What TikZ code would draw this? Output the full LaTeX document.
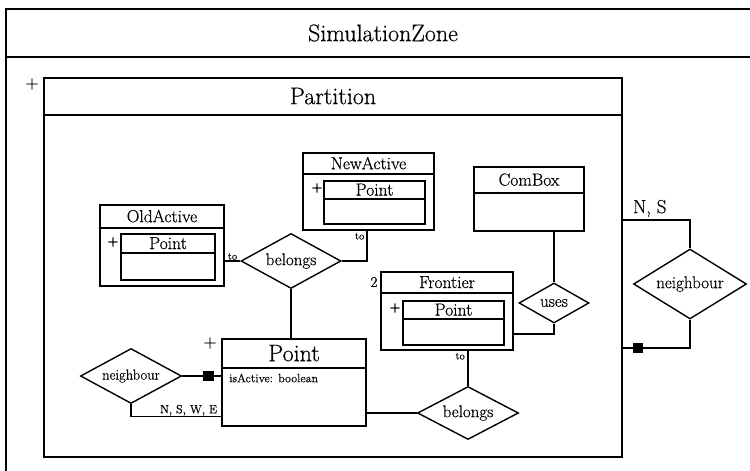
\documentclass[tikz,border=0pt]{standalone}
\usepackage{fontspec}
\setmainfont{Latin Modern Roman}[FakeBold=0.5]
\usetikzlibrary{shapes.geometric,fit,calc}
\newcommand\umlbox[8]{% name, x0, y0, x1, y1, header y, font style, title
  \node[clsbox, fit={(#2,#3) (#4,#5)}] (#1) {};
  \draw[boxline] (#1.west |- 0,#6) -- (#1.east |- 0,#6);
  \node[#7] (#1-title) at ($(#1.north)!0.5!(#1.north |- 0,#6)$) {#8};
}
\begin{document}
\begin{tikzpicture}[x=1pt,y=-1pt,
  boxline/.style={line width=1.5pt},
  frameline/.style={line width=1.8pt},
  clsbox/.style={rectangle, draw, boxline, inner sep=0pt},
  framebox/.style={rectangle, draw, frameline, inner sep=0pt},
  conn/.style={line width=1.4pt},
  rel/.style={diamond, draw, line width=1.4pt, inner sep=0pt, aspect=2},
  sq/.style={rectangle, fill=black, minimum size=10.5pt, inner sep=0pt},
  bigT/.style={font=\fontsize{24}{28}\selectfont, inner sep=0pt},
  pointT/.style={font=\fontsize{24}{28}\selectfont, inner sep=0pt},
  midT/.style={font=\fontsize{17.5}{20}\selectfont, inner sep=0pt},
  relT/.style={font=\fontsize{17}{20}\selectfont},
  relS/.style={font=\fontsize{14.5}{17}\selectfont},
  smallT/.style={font=\fontsize{12}{14}\selectfont, inner sep=1pt},
  nsT/.style={font=\fontsize{19}{22}\selectfont, inner sep=1pt},
  tinyT/.style={font=\fontsize{10.5}{12}\selectfont, inner sep=1pt},
  plusT/.style={font=\fontsize{18}{20}\selectfont, inner sep=0pt},
  plusS/.style={font=\fontsize{15}{17}\selectfont, inner sep=0pt}
]
\useasboundingbox (0,0) rectangle (750,471);

% SimulationZone frame (cropped at right and bottom)
\node[framebox, fit={(6,9) (762,482)}] (SZ) {};
\draw[frameline] (SZ.west |- 0,57) -- (SZ.east |- 0,57);
\node[bigT] (SZ-title) at (383,33) {SimulationZone};

% Partition
\node[framebox, fit={(44,78) (622,457)}] (Partition) {};
\draw[frameline] (Partition.west |- 0,115) -- (Partition.east |- 0,115);
\node[bigT] (Partition-title) at ($(Partition.north)!0.5!(Partition.north |- 0,115)$) {Partition};
\node[plusT] (plusPart) at (32,84) {+};

% classes
\umlbox{NewActive}{303}{153}{434}{230}{174}{midT}{NewActive}
\umlbox{NewPoint}{324}{181}{425}{224}{199}{midT}{Point}
\node[plusS] (plusNew) at (317,188) {+};

\umlbox{OldActive}{100}{205}{224}{286}{228}{midT}{OldActive}
\umlbox{OldPoint}{121}{234}{215}{280}{253}{midT}{Point}
\node[plusS] (plusOld) at (113,242) {+};

\umlbox{Point}{222}{339}{366}{426}{368}{pointT}{Point}
\node[plusT] (plusPoint) at (210,343) {+};
\node[smallT, anchor=west] (attr) at (228,378) {isActive: boolean};

\umlbox{Frontier}{381}{272}{513}{350}{293}{midT}{Frontier}
\umlbox{FrPoint}{403}{301}{504}{345}{319}{midT}{Point}
\node[plusS] (plusFr) at (395,308) {+};
\node[plusS] (mult) at (374,282) {2};

\umlbox{ComBox}{474}{167}{584}{231}{193}{midT}{ComBox}

% relationships
\node[rel, relT, minimum width=100pt, minimum height=55pt] (belT) at (291,261) {belongs};
\node[rel, relS, minimum width=101pt, minimum height=55pt] (neighL) at (131,376) {neighbour};
\node[rel, relT, minimum width=70pt, minimum height=40pt] (uses) at (554,303) {uses};
\node[rel, relT, minimum width=101pt, minimum height=53pt] (belB) at (468,413) {belongs};
\node[rel, relT, minimum width=113pt, minimum height=70pt] (neighR) at (690,284) {neighbour};

% connectors
\draw[conn] (OldActive.east |- belT.west) -- (belT.west);
\node[tinyT, anchor=south] (toOld) at ($(OldActive.east |- belT.west)!0.5!(belT.west)$) {to};

\draw[conn] (belT.east) -| ([xshift=-1.5pt]NewActive.south);
\node[tinyT, anchor=north east] (toNew) at ([xshift=-3pt,yshift=-1pt]NewActive.south) {to};

\draw[conn] (belT.south) -- (belT.south |- Point.north);

\draw[conn] (neighL.east) -- (neighL.east -| Point.west);
\node[sq] (sqL) at ($(neighL.east -| Point.west)+(-13,0)$) {};
\draw[conn] (neighL.south) |- ([yshift=10pt]Point.south west);
\node[smallT, anchor=south east] (nswe) at ([xshift=-3pt,yshift=10pt]Point.south west) {N, S, W, E};

\draw[conn] (belB.west) -- (belB.west -| Point.east);
\draw[conn] (belB.north) -- (belB.north |- Frontier.south);
\node[tinyT, anchor=north east] (toFr) at ([xshift=-2pt,yshift=-1pt]belB.north |- Frontier.south) {to};

\draw[conn] (uses.north) -- (uses.north |- ComBox.south);
\draw[conn] (uses.south) |- ([yshift=-23pt]Frontier.east);

\draw[conn] ([yshift=47.5pt]Partition.east) -| (neighR.north);
\node[nsT, anchor=south west] (ns) at ([xshift=9pt,yshift=49.5pt]Partition.east) {N, S};
\draw[conn] (neighR.south) |- ([yshift=-80.5pt]Partition.east);
\node[sq] (sqR) at ([xshift=15pt,yshift=-80.5pt]Partition.east) {};
\end{tikzpicture}
\end{document}
